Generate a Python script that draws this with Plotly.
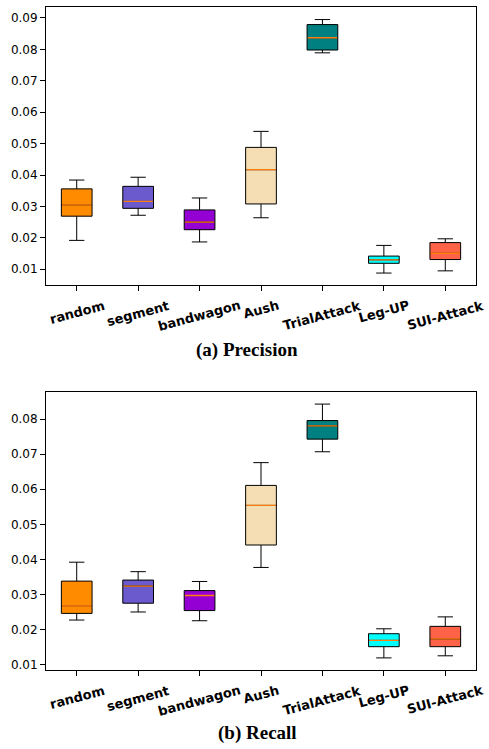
import plotly.graph_objects as go
from plotly.subplots import make_subplots

categories = ["random", "segment", "bandwagon", "Aush", "TrialAttack", "Leg-UP", "SUI-Attack"]
colors = ["#FF8C00", "#6A5ACD", "#9400D3", "#F5DEB3", "#008080", "#00FFFF", "#FF6347"]

# Precision (a)
prec_low = [0.0192, 0.0272, 0.0187, 0.0264, 0.0789, 0.0088, 0.0095]
prec_q1 = [0.0269, 0.0294, 0.0226, 0.0308, 0.0798, 0.0119, 0.0131]
prec_med = [0.0305, 0.0316, 0.0250, 0.0417, 0.0837, 0.0130, 0.0151]
prec_q3 = [0.0356, 0.0364, 0.0289, 0.0488, 0.0879, 0.0142, 0.0185]
prec_high = [0.0384, 0.0393, 0.0327, 0.0539, 0.0895, 0.0176, 0.0197]

# Recall (b)
rec_low = [0.0227, 0.0250, 0.0225, 0.0377, 0.0707, 0.0119, 0.0125]
rec_q1 = [0.0246, 0.0275, 0.0254, 0.0441, 0.0743, 0.0151, 0.0151]
rec_med = [0.0267, 0.0324, 0.0297, 0.0554, 0.0781, 0.0169, 0.0173]
rec_q3 = [0.0338, 0.0341, 0.0311, 0.0611, 0.0796, 0.0188, 0.0209]
rec_high = [0.0392, 0.0365, 0.0337, 0.0676, 0.0843, 0.0202, 0.0236]

captions = ["(a) Precision", "(b) Recall"]

W, H = 489, 749
fig = make_subplots(rows=2, cols=1)

positions = list(range(1, len(categories) + 1))
BOXW = 0.5

datasets = [
    (prec_low, prec_q1, prec_med, prec_q3, prec_high),
    (rec_low, rec_q1, rec_med, rec_q3, rec_high),
]

for r, (lo, q1, med, q3, hi) in enumerate(datasets, start=1):
    for i, cat in enumerate(categories):
        fig.add_trace(go.Box(
            x=[positions[i]], q1=[q1[i]], median=[med[i]], q3=[q3[i]],
            lowerfence=[lo[i]], upperfence=[hi[i]],
            width=BOXW, whiskerwidth=0.5, boxpoints=False,
            fillcolor=colors[i], line=dict(color="black", width=1),
            showlegend=False, name=cat), row=r, col=1)
    mx, my = [], []
    for i in range(len(categories)):
        mx += [positions[i] - BOXW / 2 + 0.01, positions[i] + BOXW / 2 - 0.01, None]
        my += [med[i], med[i], None]
    fig.add_trace(go.Scatter(x=mx, y=my, mode="lines",
                             line=dict(color="#FF7F0E", width=1.3),
                             showlegend=False, hoverinfo="skip"), row=r, col=1)

xdom = [46 / W, 476 / W]
ydoms = [[1 - 286 / H, 1 - 7 / H], [1 - 672 / H, 1 - 393 / H]]
yranges = [[0.00492, 0.0935], [0.00839, 0.08776]]

axis_common = dict(showline=True, linecolor="black", linewidth=1, mirror=True,
                   ticks="outside", ticklen=5, tickcolor="black", tickwidth=1,
                   showgrid=False, zeroline=False)

for r in (1, 2):
    sx = "" if r == 1 else str(r)
    fig.layout["xaxis" + sx].update(domain=xdom, range=[0.5, len(categories) + 0.5],
                                    tickvals=positions, showticklabels=False, **axis_common)
    fig.layout["yaxis" + sx].update(domain=ydoms[r - 1], range=yranges[r - 1],
                                    dtick=0.01, tick0=0, tickformat=".2f",
                                    tickfont=dict(family="DejaVu Sans", size=12, color="black"),
                                    **axis_common)

annotations = []
for r in (1, 2):
    sx = "" if r == 1 else str(r)
    for i, cat in enumerate(categories):
        annotations.append(dict(
            x=positions[i], xref="x" + sx, y=ydoms[r - 1][0], yref="paper",
            text="<b>" + cat + "</b>", showarrow=False, textangle=-15,
            xanchor="center", yanchor="top", yshift=-10,
            font=dict(family="DejaVu Sans", size=13, color="black")))
cap_x = [247 / W, 257 / W]
cap_y = [1 - 351 / H, 1 - 735 / H]
for r in (1, 2):
    annotations.append(dict(
        x=cap_x[r - 1], xref="paper", y=cap_y[r - 1], yref="paper",
        text="<b>" + captions[r - 1] + "</b>", showarrow=False,
        xanchor="center", yanchor="middle",
        font=dict(family="Liberation Serif", size=19, color="black")))

fig.update_layout(width=W, height=H, margin=dict(l=0, r=0, t=0, b=0),
                  paper_bgcolor="white", plot_bgcolor="white",
                  boxmode="overlay", annotations=annotations,
                  font=dict(family="DejaVu Sans", color="black"))

fig.write_html("out.html", config={"displayModeBar": False},
               post_script="document.body.style.margin='0px';document.body.style.overflow='hidden';")
